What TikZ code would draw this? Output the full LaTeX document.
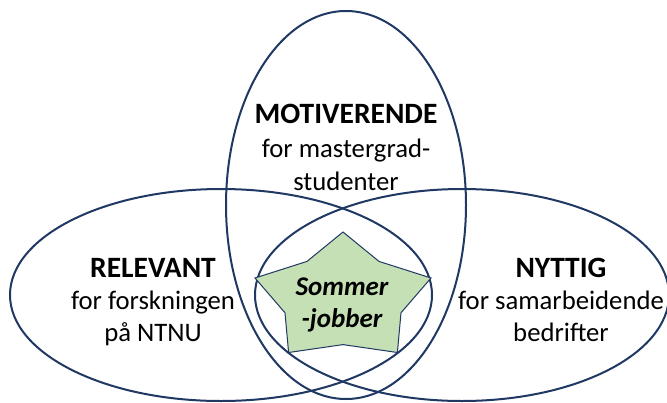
\documentclass[tikz,border=0pt]{standalone}
\usepackage{fontspec}
\setmainfont{Carlito}
\definecolor{navy}{HTML}{203864}
\definecolor{stargreen}{HTML}{C5E0B4}
\begin{document}
\begin{tikzpicture}[x=1pt,y=-1pt,
  ring/.style={draw=navy,line width=2pt},
  head/.style={anchor=base,font=\fontsize{29.5}{33}\selectfont\bfseries},
  sub/.style={anchor=base,font=\fontsize{26.7}{33}\selectfont},
  startext/.style={anchor=base,font=\fontsize{27}{33}\selectfont\bfseries\itshape}]
\fill[white] (0,0) rectangle (667,402);
\useasboundingbox (0,0) rectangle (667,402);
% ellipses
\draw[ring] (221,295) ellipse [x radius=211pt, y radius=106pt];
\draw[ring] (462,295) ellipse [x radius=207pt, y radius=106pt];
\draw[ring] (346,205) ellipse [x radius=120pt, y radius=194pt];
% star
\draw[fill=stargreen,draw=navy,line width=1pt,line join=miter]
  (343,232) -- (379,261.4) -- (431,278) -- (401,312.8) -- (397.4,352.5)
  -- (343,344.6) -- (288.6,352.5) -- (285,312.8) -- (255,278) -- (307,261.4) -- cycle;
% texts
\node[head] (mot) at (346,123) {MOTIVERENDE};
\node[sub] (mot2) at (346,157) {for mastergrad-};
\node[sub] (mot3) at (346,190) {studenter};
\node[head] (rel) at (153,277) {RELEVANT};
\node[sub] (rel2) at (153,309) {for forskningen};
\node[sub] (rel3) at (153,341) {på NTNU};
\node[head] (nyt) at (561,277) {NYTTIG};
\node[sub] (nyt2) at (561,309) {for samarbeidende};
\node[sub] (nyt3) at (561,341) {bedrifter};
\node[startext] (som) at (342,295) {Sommer};
\node[startext] (job) at (342,327) {-jobber};
\end{tikzpicture}
\end{document}
